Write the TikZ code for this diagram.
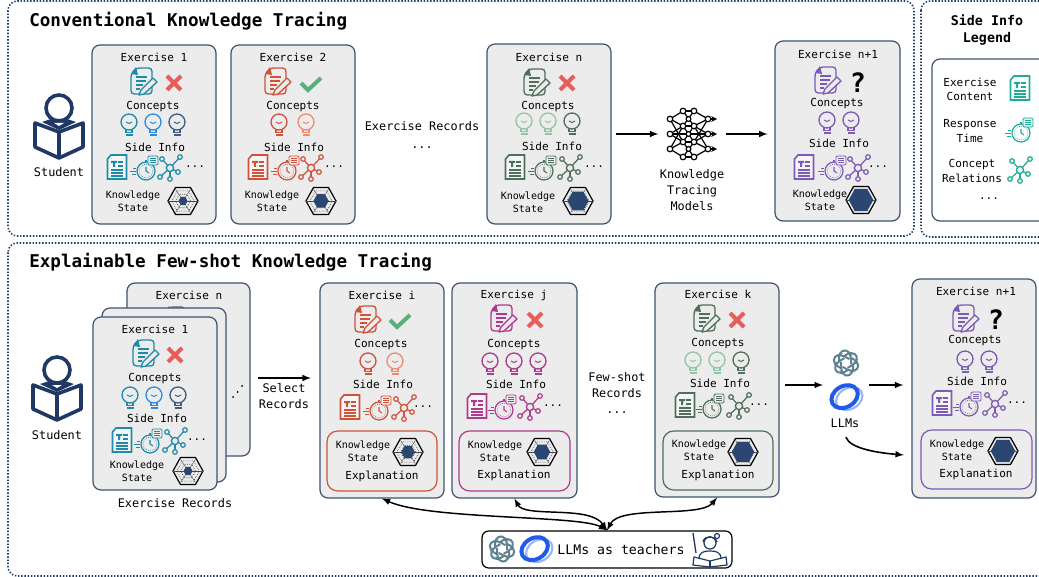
\documentclass[tikz,border=0pt]{standalone}
\usepackage{fontspec}
\setmainfont{DejaVu Sans Mono}
\usetikzlibrary{fit}
\definecolor{panelc}{HTML}{1F3F6B}
\definecolor{cardc}{HTML}{3F5270}
\definecolor{cardbg}{HTML}{ECECEC}
\definecolor{navyc}{HTML}{1F3864}
\definecolor{hexc}{HTML}{2B4670}
\definecolor{tealc}{HTML}{1F8BA6}
\definecolor{skyc}{HTML}{2C8CE0}
\definecolor{slatec}{HTML}{3F5C80}
\definecolor{redc}{HTML}{D0523A}
\definecolor{salmonc}{HTML}{F08A70}
\definecolor{plumc}{HTML}{B0388F}
\definecolor{mossc}{HTML}{4F6F5C}
\definecolor{mintc}{HTML}{93C4A6}
\definecolor{grapec}{HTML}{7B5BB5}
\definecolor{legendc}{HTML}{1FAE95}
\definecolor{crossc}{HTML}{E85C5C}
\definecolor{checkc}{HTML}{5AB07A}
\definecolor{gptc}{HTML}{5F8291}
\definecolor{ringc}{HTML}{1F5BE8}
\newcommand{\hexpath}[1]{({15*#1},0) -- ({7.5*#1},{13.5*#1}) -- ({-7.5*#1},{13.5*#1}) -- ({-15*#1},0) -- ({-7.5*#1},{-13.5*#1}) -- ({7.5*#1},{-13.5*#1}) -- cycle}
\tikzset{
  panel/.style={draw=panelc,line width=1.2pt,dash pattern=on 1.1pt off 1.3pt,rounded corners=7pt},
  card/.style={draw=cardc,fill=cardbg,line width=.9pt,rounded corners=6pt,inner sep=0pt},
  expbox/.style={draw=#1,line width=.9pt,rounded corners=8pt,inner sep=0pt},
  lbl/.style={font=\fontsize{8.3}{10.6}\selectfont,align=center,inner sep=0pt},
  lblb/.style={font=\fontsize{8.9}{12}\selectfont,align=center,inner sep=0pt},
  kslbl/.style={font=\fontsize{7.5}{9.7}\selectfont,align=center,inner sep=0pt},
  ttl/.style={font=\fontsize{13.2}{15}\selectfont\bfseries,inner sep=0pt,anchor=west},
  qmark/.style={font=\fontsize{20}{20}\selectfont\bfseries,inner sep=0pt},
  spot/.style={inner sep=0pt,minimum width=#1},
  flow/.style={-latex,line width=1.2pt},
  pics/docpen/.style={code={
    \draw[#1,line width=1pt,rounded corners=2.5pt,fill=cardbg] (-7,-13) -- (9,-13) -- (9,13) -- (-12,13) -- (-12,-7) -- cycle;
    \fill[#1] (-12,-7) -- (-7,-14) -- (-5,-6) -- cycle;
    \foreach \ly/\lw in {-4/4,0/3,4/0,8/-3} \draw[#1,line width=.8pt] (-7,\ly) -- (\lw,\ly);
    \draw[#1,line width=1pt,fill=cardbg,line join=round] (10,-3) -- (14,1) -- (1,13) -- (-4,14) -- (-2,9) -- cycle;
  }},
  pics/crossmark/.style={code={
    \draw[crossc,line width=3pt] (-7,-7) -- (7,7) (-7,7) -- (7,-7);
  }},
  pics/checkmark/.style={code={
    \draw[checkc,line width=3pt] (-10,-1) -- (-3,6) -- (10,-6);
  }},
  pics/bulb/.style={code={
    \draw[#1,line width=1pt] (0,-3) circle (8);
    \draw[#1,line width=.9pt] (-3,5) -- (-3,7.5) -- (3,7.5) -- (3,5);
    \draw[#1,line width=1.5pt] (-3.5,10) -- (3.5,10);
    \draw[#1,line width=.8pt] (-3,-3) .. controls (-1,-1) and (1,-1) .. (3,-3);
  }},
  pics/textdoc/.style={code={
    \draw[#1,line width=1.2pt,fill=white,fill opacity=.5] (-6,-12) -- (9.5,-12) -- (9.5,12) -- (-9.5,12) -- (-9.5,-8) -- cycle;
    \fill[#1] (-6,-6) rectangle (0,-4) (-4,-6) rectangle (-2,0);
    \foreach \ly in {-5,-1} \draw[#1,line width=1.1pt] (1,\ly) -- (6,\ly);
    \foreach \ly in {3,6,9} \draw[#1,line width=1.1pt] (-6,\ly) -- (6,\ly);
  }},
  pics/watch/.style={code={
    \draw[#1,line width=.9pt] (1,2) circle (9);
    \draw[#1,line width=.5pt,densely dotted] (1,2) circle (6.8);
    \draw[#1,line width=.8pt] (1,-2) -- (1,2) -- (4,4);
    \fill[#1] (0,-9) rectangle (2,-7);
    \draw[#1,line width=.7pt,fill=cardbg,rounded corners=1pt] (3,-13) rectangle (13,-4);
    \foreach \ly in {-11,-8.5,-6.5} \draw[#1,line width=.6pt] (5,\ly) -- (11,\ly);
    \foreach \ly/\lx in {-1/-12,2/-15,5/-13} \draw[#1,line width=.7pt] (\lx,\ly) -- (-9,\ly);
  }},
  pics/graphic/.style={code={
    \foreach \gx/\gy in {-8/-9,10/-11,8/4,0/11,-10/9} {
      \draw[#1,line width=.9pt] (0,0) -- (\gx,\gy);
      \draw[#1,line width=.9pt,fill=cardbg] (\gx,\gy) circle (2.3);
    }
    \draw[#1,line width=1pt,fill=cardbg] (0,0) circle (3.6);
  }},
  pics/radar/.style={code={
    \draw[black,line width=.9pt,line join=round] \hexpath{1};
    \foreach \ha in {0,60,120} \draw[black!70,line width=.3pt] ({15*cos(\ha)},{13.5*sin(\ha)}) -- ({-15*cos(\ha)},{-13.5*sin(\ha)});
    \draw[black,line width=.4pt,densely dotted] \hexpath{.75};
    \draw[black,line width=.4pt,densely dotted] \hexpath{.5};
    \fill[hexc] \hexpath{#1};
  }},
  pics/neural/.style={code={
    \foreach \ay/\by in {-15/-23,-15/-8,-15/8,0/-8,0/8,15/-8,15/8,15/23} {
      \draw[line width=.9pt] (-22,\ay) -- (-9,\by);
      \draw[line width=.9pt] (16,\ay) -- (2,\by);
    }
    \foreach \ay/\by in {-23/-23,-23/-8,-8/-23,-8/-8,-8/8,8/-8,8/8,8/23,23/8,23/23} \draw[line width=.9pt] (-9,\ay) -- (2,\by);
    \draw[line width=.9pt] (-22,0) -- (16,0);
    \foreach \ay in {-15,0,15} {
      \draw[-stealth,line width=.9pt] (16,\ay) -- (25,\ay);
      \draw[line width=.9pt,fill=white] (-22,\ay) circle (2.8);
      \draw[line width=.9pt,fill=white] (-3.5,\ay) circle (2.4);
      \draw[line width=.9pt,fill=white] (16,\ay) circle (2.8);
    }
    \foreach \ay in {-23,-8,8,23} {
      \draw[line width=.9pt,fill=white] (-9,\ay) circle (2.8);
      \draw[line width=.9pt,fill=white] (2,\ay) circle (2.8);
    }
  }},
  pics/student/.style={code={
    \draw[navyc,line width=2.7pt] (0,0) circle (13);
    \draw[navyc,line width=2.7pt,line join=round] (-24,15) -- (0,24) -- (24,15) -- (24,39) -- (0,50) -- (-24,39) -- cycle;
    \draw[navyc,line width=2.7pt] (0,24) -- (0,50);
    \fill[navyc] (-17,14) -- (-8,11) -- (8,11) -- (17,14) -- (0,22) -- cycle;
    \fill[white] (-5,15) -- (5,15) -- (0,18) -- cycle;
  }},
  pics/gptknot/.style={code={
    \foreach \ga in {0,60,120,180,240,300} \draw[gptc,line width=1.5pt,rounded corners=3pt,rotate=\ga] (5,1) -- (5,-8) -- (0,-14) -- (-7,-10) -- (-7,-1);
  }},
  pics/ringlogo/.style={code={
    \draw[ringc!45,line width=1.6pt,rotate=30] (2,3) ellipse (14 and 10.5);
    \draw[ringc,line width=3pt,rotate=30] (-1,-1) ellipse (14 and 10.5);
  }},
  pics/teacher/.style={code={
    \draw[navyc,line width=.9pt] (2,-5) circle (6);
    \draw[navyc,line width=.9pt] (-5,-6) .. controls (-4,-13) and (7,-13) .. (9,-6);
    \draw[navyc,line width=.9pt] (9,-12) circle (2.5);
    \draw[navyc,line width=.9pt] (-9,11) .. controls (-9,4) and (-4,3) .. (2,3) .. controls (8,3) and (13,4) .. (13,11);
    \draw[navyc,line width=1pt] (-15,-15) -- (-12,5);
    \draw[navyc,line width=.9pt] (-14,9) -- (2,13) -- (18,9) -- (19,17) -- (2,19) -- (-15,17) -- cycle;
    \draw[navyc,line width=.9pt] (2,13) -- (2,19);
  }},
  pics/riserdots/.style={code={
    \foreach \dx/\dy in {0/0,4.5/-5,9/-11} \fill[black] (\dx,\dy) circle (1);
  }},
}
% icon row: text, watch, graph, dots, y, colour
\newcommand{\sideicons}[6]{
  \pic at (#1,#5) {textdoc=#6};
  \pic at (#2,#5+2) {watch=#6};
  \pic at (#3,#5+1) {graphic=#6};
  \node[lbl] (dots#4) at (#4,#5) {...};
}
\newcommand{\kstate}[3]{\node[kslbl] (#1) at (#2,#3) {Knowledge\\State};}
\begin{document}
\begin{tikzpicture}[x=.75pt,y=-.75pt]
\useasboundingbox (0,0) rectangle (1039,577);
\draw[panel] (8,1) rectangle (914,236);
\draw[panel] (921,1) rectangle (1070,237);
\draw[panel] (8,243) rectangle (1070,576);
\node[ttl] (convtitle) at (29,21) {Conventional Knowledge Tracing};
\node[ttl] (expltitle) at (29,262) {Explainable Few-shot Knowledge Tracing};
%% conventional
\pic at (59,108) {student};
\node[lblb] (stua) at (59,172) {Student};
\node[card,fit={(92,45)(216,224)}] (ea) {};
\node[lbl] (eat) at (154,57) {Exercise 1};
\pic at (143,81) {docpen=tealc};
\pic at (174,83) {crossmark};
\node[lbl] (eac) at (153,107) {Concepts};
\foreach \bx/\bc in {129/tealc,153/skyc,177/slatec} \pic at (\bx,125) {bulb=\bc};
\node[lbl] (eas) at (155,147) {Side Info};
\sideicons{117}{145}{170}{195}{167}{tealc}
\kstate{eak}{133}{201}
\pic at (183,201) {radar=.3};
\node[card,fit={(231,45)(355,224)}] (eb) {};
\node[lbl] (ebt) at (293,57) {Exercise 2};
\pic at (277,81) {docpen=redc};
\pic at (311,84) {checkmark};
\node[lbl] (ebc) at (293,107) {Concepts};
\foreach \bx/\bc in {279/redc,306/salmonc} \pic at (\bx,125) {bulb=\bc};
\node[lbl] (ebs) at (294,147) {Side Info};
\sideicons{258}{286}{311}{334}{167}{redc}
\kstate{ebk}{272}{201}
\pic at (321,201) {radar=.5};
\node[lblb] (recs) at (422,135) {Exercise Records\\[1.5pt]...};
\node[card,fit={(487,44)(611,224)}] (en) {};
\node[lbl] (ent) at (549,57) {Exercise n};
\pic at (536,82) {docpen=mossc};
\pic at (567,83) {crossmark};
\node[lbl] (enc) at (548,107) {Concepts};
\foreach \bx/\bc in {524/mintc,548/mintc,572/mossc} \pic at (\bx,124) {bulb=\bc};
\node[lbl] (ens) at (552,146) {Side Info};
\sideicons{515}{543}{570}{594}{167}{mossc}
\kstate{enk}{528}{202}
\pic at (578,201) {radar=.7};
\node[spot=50pt,minimum height=36pt] (nnet) at (692,134) {};
\pic at (nnet) {neural};
\node[lblb] (nnlab) at (692,190) {Knowledge\\Tracing\\Models};
\node[card,fit={(775,41)(900,221)}] (em) {};
\node[lbl] (emt) at (838,54) {Exercise n+1};
\pic at (827,80) {docpen=grapec};
\node[qmark] (qa) at (858,83) {?};
\node[lbl] (emc) at (837,104) {Concepts};
\foreach \bx/\bc in {827/grapec,851/grapec} \pic at (\bx,123) {bulb=\bc};
\node[lbl] (ems) at (839,143) {Side Info};
\sideicons{804}{833}{858}{878}{167}{grapec}
\kstate{emk}{820}{200}
\pic at (861,200) {radar=.82};
\draw[flow,shorten <=3pt] (en.east) -- (nnet.west);
\draw[flow,shorten >=5pt] (nnet.east) -- (nnet.east -| em.west);
%% legend
\node[font=\fontsize{10}{12.7}\selectfont\bfseries,align=center,inner sep=0pt] (legt) at (987,30) {Side Info\\Legend};
\node[draw=cardc,line width=.9pt,rounded corners=6pt,inner sep=0pt,fit={(932,59)(1070,221)}] (legbox) {};
\node[lbl] (lega) at (970,89) {Exercise\\Content};
\pic at (1020,88) {textdoc=legendc};
\node[lbl] (legb) at (970,131) {Response\\Time};
\pic at (1020,131) {watch=legendc};
\node[lbl] (legc) at (972,171) {Concept\\Relations};
\pic at (1020,170) {graphic=legendc};
\node[lbl] (legd) at (989,199) {...};
%% explainable
\pic at (57,370) {student};
\node[lblb] (stub) at (57,435) {Student};
\node[card,fit={(127,283)(250,456)}] (sa) {};
\node[lbl] (sat) at (189,295) {Exercise n};
\pic at (176,320) {docpen=mossc};
\node[card,fit={(102,308)(226,482)}] (sb) {};
\node[card,fit={(93,317)(217,490)}] (sc) {};
\node[lbl] (sct) at (155,329) {Exercise 1};
\pic at (145,353) {docpen=tealc};
\pic at (175,355) {crossmark};
\node[lbl] (scc) at (155,379) {Concepts};
\foreach \bx/\bc in {130/tealc,154/skyc,178/slatec} \pic at (\bx,398) {bulb=\bc};
\node[lbl] (scs) at (157,418) {Side Info};
\sideicons{122}{149}{175}{197}{440}{tealc}
\kstate{sck}{137}{471}
\pic at (188,471) {radar=.3};
\pic at (233,397) {riserdots};
\node[lblb] (srecs) at (175,503) {Exercise Records};
\node[lblb] (selrec) at (284,396) {Select\\Records};
\node[card,fit={(320,283)(444,498)}] (ei) {};
\node[lbl] (eit) at (382,295) {Exercise i};
\pic at (367,319) {docpen=redc};
\pic at (400,321) {checkmark};
\node[lbl] (eic) at (381,345) {Concepts};
\foreach \bx/\bc in {368/redc,395/salmonc} \pic at (\bx,364) {bulb=\bc};
\node[lbl] (eis) at (383,384) {Side Info};
\sideicons{350}{378}{404}{423}{407}{redc}
\node[expbox=redc,fit={(327,431)(437,491)}] (eib) {};
\kstate{eik}{363}{451}
\pic at (408,452) {radar=.45};
\node[lbl] (eie) at (382,476) {Explanation};
\node[card,fit={(452,283)(577,498)}] (ej) {};
\node[lbl] (ejt) at (514,295) {Exercise j};
\pic at (503,318) {docpen=plumc};
\pic at (535,320) {crossmark};
\node[lbl] (ejc) at (514,345) {Concepts};
\foreach \bx in {490,514,538} \pic at (\bx,364) {bulb=plumc};
\node[lbl] (ejs) at (516,384) {Side Info};
\sideicons{477}{503}{530}{553}{406}{plumc}
\node[expbox=plumc,fit={(459,431)(570,491)}] (ejb) {};
\kstate{ejk}{495}{451}
\pic at (542,452) {radar=.55};
\node[lbl] (eje) at (514,475) {Explanation};
\node[lblb] (fewrec) at (617,393) {Few-shot\\Records\\...};
\node[card,fit={(655,283)(779,497)}] (ek) {};
\node[lbl] (ekt) at (718,294) {Exercise k};
\pic at (706,318) {docpen=mossc};
\pic at (737,320) {crossmark};
\node[lbl] (ekc) at (718,344) {Concepts};
\foreach \bx/\bc in {693/mintc,717/mintc,741/mossc} \pic at (\bx,363) {bulb=\bc};
\node[lbl] (eks) at (720,383) {Side Info};
\sideicons{685}{711}{739}{759}{405}{mossc}
\node[expbox=mossc,fit={(663,431)(773,490)}] (ekb) {};
\kstate{ekk}{699}{450}
\pic at (743,452) {radar=.75};
\node[lbl] (eke) at (718,475) {Explanation};
\node[spot=30pt,minimum height=48pt] (llmicons) at (846,385) {};
\pic at (846,363) {gptknot};
\pic at (846,397) {ringlogo};
\node[lblb] (llmlab) at (845,423) {LLMs};
\node[card,fit={(912,279)(1036,498)}] (eo) {};
\node[lbl] (eot) at (976,291) {Exercise n+1};
\pic at (965,318) {docpen=grapec};
\node[qmark] (qb) at (996,320) {?};
\node[lbl] (eoc) at (975,341) {Concepts};
\foreach \bx in {965,989} \pic at (\bx,362) {bulb=grapec};
\node[lbl] (eos) at (977,381) {Side Info};
\sideicons{942}{968}{995}{1017}{403}{grapec}
\node[expbox=grapec,fit={(921,430)(1032,489)}] (eob) {};
\kstate{eok}{957}{450}
\pic at (1003,451) {radar=.82};
\node[lbl] (eoe) at (976,474) {Explanation};
\node[draw=black,line width=.9pt,rounded corners=5pt,inner sep=0pt,fit={(482,531)(732,568)}] (teach) {};
\pic at (502,549) {gptknot};
\pic at (536,549) {ringlogo};
\node[font=\fontsize{9.9}{12}\selectfont,inner sep=0pt] (teachlab) at (621,550) {LLMs as teachers};
\pic at (708,548) {teacher};
\coordinate (selfrom) at (258,378);
\coordinate (selto) at (311,378);
\coordinate (expin) at (904,455);
\draw[flow] (selfrom) -- (selto);
\draw[flow,shorten <=4pt,shorten >=2pt] (ek.east |- llmicons) -- (llmicons.west);
\draw[flow,shorten <=2pt,shorten >=6pt] (llmicons.east) -- (llmicons.east -| eo.west);
\draw[flow,shorten <=2pt] (llmlab.south) ++(0,7) .. controls (850,449) and (880,453) .. (expin);
\draw[latex-latex,line width=1.1pt] (teach.north) .. controls (580,515) and (430,520) .. (ei.south);
\draw[latex-latex,line width=1.1pt] (teach.north) .. controls (590,505) and (525,518) .. (ej.south);
\draw[latex-latex,line width=1.1pt] (teach.north) .. controls (620,505) and (700,518) .. (ek.south);
\end{tikzpicture}
\end{document}
